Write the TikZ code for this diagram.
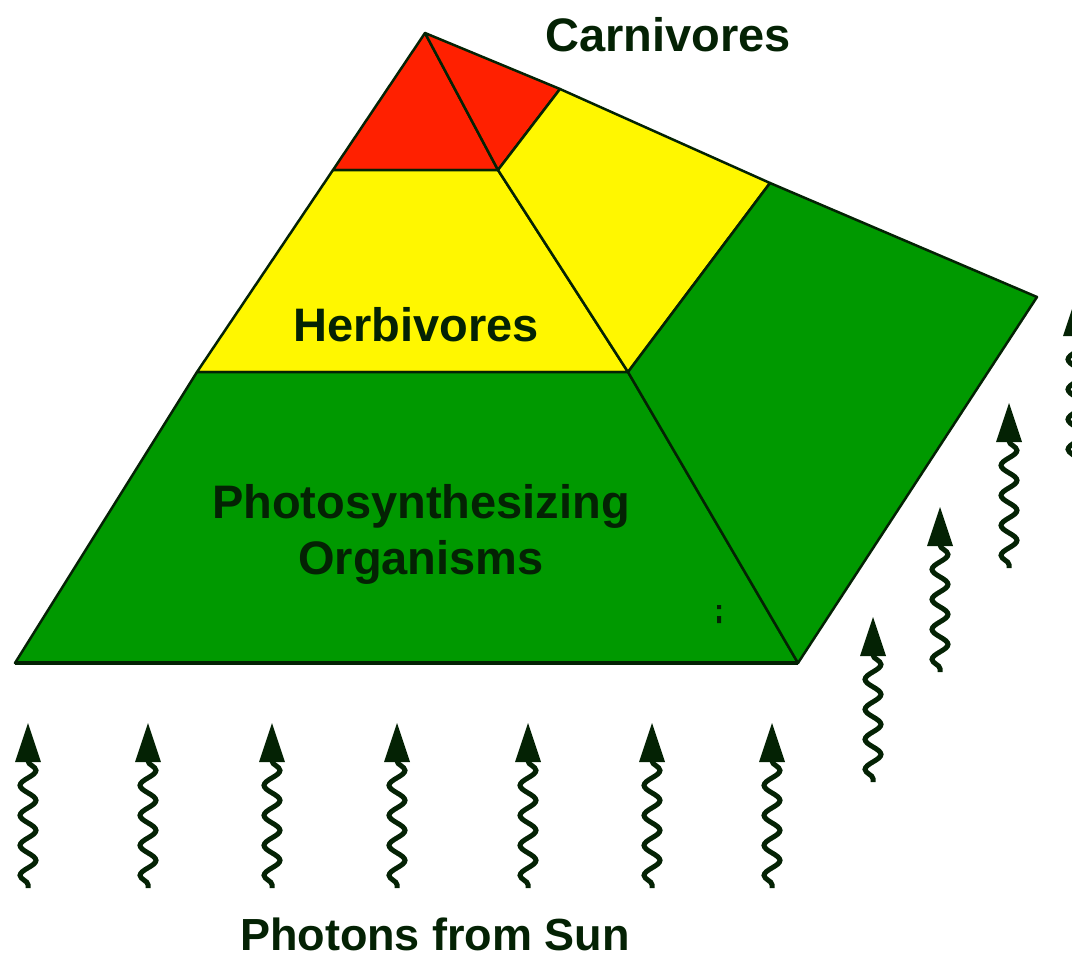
\documentclass[tikz,border=0pt]{standalone}
\usepackage{fontspec}
\setmainfont{Liberation Sans}
\usetikzlibrary{decorations.pathmorphing}
\definecolor{meatred}{RGB}{255,32,0}
\definecolor{plantyellow}{RGB}{255,247,0}
\definecolor{leafgreen}{RGB}{0,153,0}
\definecolor{inkgreen}{RGB}{4,34,4}

\begin{document}
\begin{tikzpicture}[
    x=1pt, y=-1pt,
    face/.style={draw=inkgreen, line width=2.5pt, line join=round},
    tagtext/.style={text=inkgreen, font=\bfseries\fontsize{47}{57}\selectfont, inner sep=0pt, anchor=base},
    photon/.pic={
        \fill[inkgreen] (0,0) -- (13,39) -- (-13,39) -- cycle;
        \draw[inkgreen, line width=5pt, decorate, decoration={snake, amplitude=8pt, segment length=30pt}] (0,38) -- (0,165);
    }
]
    \useasboundingbox (0,0) rectangle (1072,959);
    \clip (0,0) rectangle (1072,959);

    % corners of the pyramid
    \coordinate (apex) at (425,33);
    \coordinate (topL) at (333,170);
    \coordinate (topR) at (498,170);
    \coordinate (midL) at (197,372);
    \coordinate (midR) at (628,372);
    \coordinate (baseL) at (15,663);
    \coordinate (baseR) at (798,663);
    \coordinate (ridgeA) at (560,89);
    \coordinate (ridgeB) at (770,183);
    \coordinate (back) at (1037,297);

    % trophic levels, front and side
    \filldraw[face, fill=meatred] (apex) -- (topR) -- (topL) -- cycle;
    \filldraw[face, fill=meatred] (apex) -- (ridgeA) -- (topR) -- cycle;
    \filldraw[face, fill=plantyellow] (topL) -- (topR) -- (midR) -- (midL) -- cycle;
    \filldraw[face, fill=plantyellow] (topR) -- (ridgeA) -- (ridgeB) -- (midR) -- cycle;
    \filldraw[face, fill=leafgreen] (midL) -- (midR) -- (baseR) -- (baseL) -- cycle;
    \filldraw[face, fill=leafgreen] (midR) -- (ridgeB) -- (back) -- (baseR) -- cycle;
    \draw[inkgreen, line width=4pt] (baseL) -- (baseR);
    \fill[inkgreen] (717,605) rectangle (721,609) (717,616) rectangle (721,623);

    \node[tagtext] (carnivores) at (668,51) {Carnivores};
    \node[tagtext] (herbivores) at (416,341) {Herbivores};
    \node[tagtext] (producers) at (421,518) {Photosynthesizing};
    \node[tagtext] (organisms) at (421,574) {Organisms};
    \node[tagtext, font=\bfseries\fontsize{45}{54}\selectfont] (photons) at (435,950) {Photons from Sun};

    % light coming up from below
    \foreach \x in {28,148,272,397,528,652,772}
        \pic at (\x,723) {photon};
    \foreach \x/\y in {873/617, 940/507, 1009/403, 1076/297}
        \pic at (\x,\y) {photon};
\end{tikzpicture}
\end{document}
